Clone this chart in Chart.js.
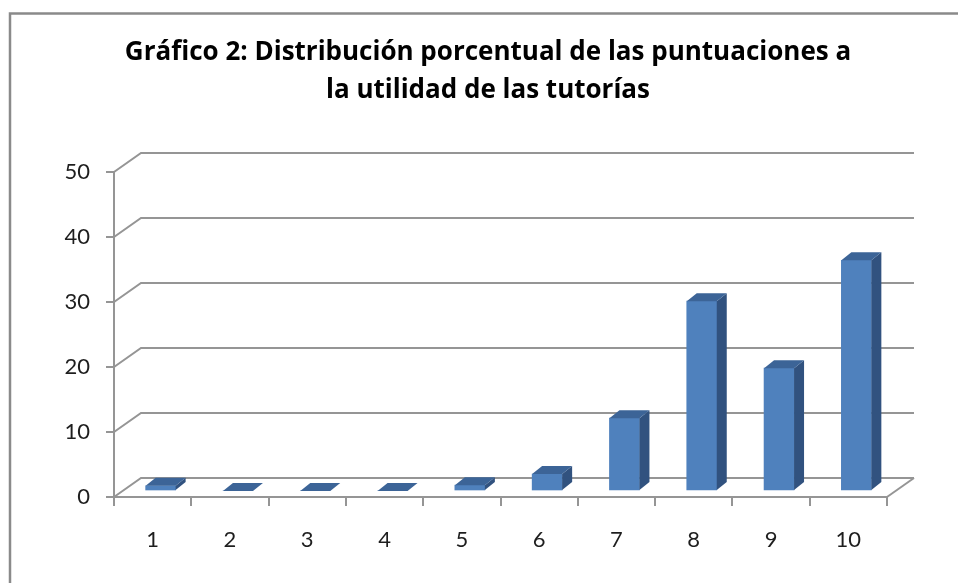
<!DOCTYPE html>
<html>
<head>
<meta charset="utf-8">
<script src="https://cdn.jsdelivr.net/npm/chart.js@4.4.1/dist/chart.umd.min.js"></script>
<style>
  html, body { margin: 0; padding: 0; background: #fff; }
  #c { display: block; }
</style>
</head>
<body>
<canvas id="c" width="958" height="583"></canvas>
<script>
// ---- data ----
const categories = ['1', '2', '3', '4', '5', '6', '7', '8', '9', '10'];
const values = [0.8, 0, 0, 0, 0.9, 2.6, 11.2, 29.2, 18.9, 35.5];
const yTicks = [0, 10, 20, 30, 40, 50];
const titleLines = ['Gráfico 2: Distribución porcentual de las puntuaciones a', 'la utilidad de las tutorías'];

// ---- 3D styling constants ----
const WALL_DX = 27, WALL_DY = -19;   // depth of the back wall
const BAR_DX = 8, BAR_DY = -6;       // bars sit in the middle of the depth
const SIDE_DX = 10, SIDE_DY = -8;    // bar depth
const GRID = '#959595';

const threeD = {
  id: 'threeD',
  beforeDatasetsDraw(chart) {
    const { ctx, chartArea: a, scales: { x, y } } = chart;
    ctx.save();
    ctx.strokeStyle = GRID;
    ctx.lineWidth = 2;
    ctx.lineCap = 'butt';
    yTicks.forEach(v => {
      const py = y.getPixelForValue(v);
      ctx.beginPath();
      ctx.moveTo(a.left, py);
      ctx.lineTo(a.left + WALL_DX, py + WALL_DY);
      ctx.lineTo(a.right + WALL_DX, py + WALL_DY);
      ctx.stroke();
    });
    const pb = y.getPixelForValue(0);
    ctx.beginPath();
    ctx.moveTo(a.right, pb);
    ctx.lineTo(a.right + WALL_DX, pb + WALL_DY);
    ctx.stroke();
    ctx.restore();
    ctx.save();
    ctx.translate(BAR_DX, BAR_DY);
  },
  afterDatasetsDraw(chart) {
    const { ctx } = chart;
    const meta = chart.getDatasetMeta(0);
    meta.data.forEach(el => {
      const p = el.getProps(['x', 'y', 'base', 'width'], true);
      const l = p.x - p.width / 2, r = p.x + p.width / 2;
      const top = Math.min(p.y, p.base), bot = Math.max(p.y, p.base);
      ctx.fillStyle = '#31527F';
      ctx.beginPath();
      ctx.moveTo(r, top);
      ctx.lineTo(r + SIDE_DX, top + SIDE_DY);
      ctx.lineTo(r + SIDE_DX, bot + SIDE_DY);
      ctx.lineTo(r, bot);
      ctx.closePath();
      ctx.fill();
      ctx.fillStyle = '#3C6497';
      ctx.beginPath();
      ctx.moveTo(l, top);
      ctx.lineTo(l + SIDE_DX, top + SIDE_DY);
      ctx.lineTo(r + SIDE_DX, top + SIDE_DY);
      ctx.lineTo(r, top);
      ctx.closePath();
      ctx.fill();
    });
    ctx.restore();
  },
  afterDraw(chart) {
    const { ctx } = chart;
    ctx.save();
    // title
    ctx.fillStyle = '#000';
    ctx.font = 'bold 26px "Open Sans"';
    ctx.textAlign = 'center';
    ctx.textBaseline = 'alphabetic';
    ctx.fillText(titleLines[0], 488, 60);
    ctx.fillText(titleLines[1], 488, 98);
    // outer frame
    ctx.strokeStyle = '#8a8a8a';
    ctx.lineWidth = 2.5;
    ctx.beginPath();
    ctx.moveTo(10, 583);
    ctx.lineTo(10, 13.5);
    ctx.lineTo(958, 13.5);
    ctx.stroke();
    ctx.restore();
  }
};

new Chart(document.getElementById('c'), {
  type: 'bar',
  data: {
    labels: categories,
    datasets: [{
      data: values,
      backgroundColor: '#4F81BD',
      borderWidth: 0,
      barThickness: 30
    }]
  },
  options: {
    responsive: false,
    animation: false,
    devicePixelRatio: 1,
    layout: { padding: { left: 0, right: 71, top: 172, bottom: 0 } },
    plugins: {
      legend: { display: false },
      tooltip: { enabled: false },
      title: { display: false }
    },
    scales: {
      x: {
        grid: { display: true, offset: true, drawOnChartArea: false, drawTicks: true, tickLength: 9, color: GRID, lineWidth: 2 },
        border: { display: true, color: GRID, width: 2 },
        ticks: { color: '#1e1e1e', font: { family: 'Lato', size: 22 }, padding: 21, maxRotation: 0 },
        afterFit(s) { s.height = 86; }
      },
      y: {
        min: 0, max: 50,
        afterBuildTicks(s) { s.ticks = yTicks.map(v => ({ value: v })); },
        grid: { display: true, drawOnChartArea: false, drawTicks: true, tickLength: 8, color: GRID, lineWidth: 2 },
        border: { display: true, color: GRID, width: 2 },
        ticks: { color: '#1e1e1e', font: { family: 'Lato', size: 22 }, padding: 16 },
        afterFit(s) { s.width = 114; }
      }
    }
  },
  plugins: [threeD]
});
</script>
</body>
</html>
